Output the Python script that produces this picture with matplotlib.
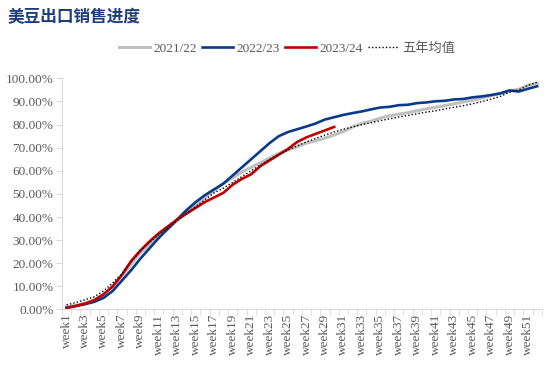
import matplotlib
matplotlib.use('Agg')
import matplotlib.pyplot as plt
from matplotlib.ticker import FixedLocator, PercentFormatter

plt.rcParams['font.family'] = ['Liberation Serif', 'Noto Sans CJK SC']

weeks = list(range(1, 53))
week_labels = [f'week{w}' for w in weeks]

# 2021/22
y2122 = [1.0, 1.8, 2.8, 4.2, 6.5, 10.0, 14.5, 19.5, 24.5, 28.0, 31.5, 35.0, 38.5,
         42.0, 45.5, 48.5, 51.5, 54.5, 57.0, 59.5, 61.5, 63.5, 65.5, 67.5, 69.0, 70.5,
         72.0, 73.0, 74.2, 75.5, 77.0, 79.0, 80.5, 81.5, 82.8, 83.8, 84.5, 85.2, 86.0,
         86.8, 87.5, 88.2, 89.0, 89.8, 90.5, 91.5, 92.5, 93.5, 94.5, 95.3, 97.0, 98.0]
# 2022/23
y2223 = [0.8, 1.5, 2.3, 3.3, 5.0, 8.0, 12.5, 17.0, 22.0, 26.5, 31.0, 35.0, 39.0,
         43.0, 46.5, 49.5, 52.0, 54.5, 58.0, 61.5, 65.0, 68.5, 72.0, 75.0, 76.8, 78.0,
         79.2, 80.5, 82.2, 83.2, 84.2, 85.0, 85.7, 86.6, 87.4, 87.7, 88.4, 88.6, 89.3,
         89.6, 90.1, 90.3, 90.9, 91.1, 91.8, 92.2, 92.8, 93.5, 94.8, 94.3, 95.5, 96.6]
# 2023/24
y2324 = [0.6, 1.5, 2.5, 4.0, 6.5, 10.0, 15.0, 21.0, 25.5, 29.5, 33.0, 36.0, 39.0,
         41.5, 44.0, 46.5, 48.5, 50.5, 54.0, 56.5, 58.5, 62.0, 64.5, 67.0, 69.5, 72.5,
         74.5, 76.0, 77.5, 79.0]
# 五年均值
avg5 = [2.0, 3.0, 4.2, 5.5, 8.0, 11.5, 15.5, 20.5, 25.5, 29.0, 32.5, 35.5, 38.5,
        41.5, 44.5, 47.5, 50.5, 52.5, 55.0, 57.5, 60.0, 62.5, 65.0, 67.0, 69.0, 70.8,
        72.5, 74.0, 75.5, 76.8, 78.0, 79.0, 80.0, 80.8, 81.7, 82.5, 83.3, 84.0, 84.7,
        85.4, 86.0, 86.8, 87.5, 88.2, 89.0, 90.0, 91.0, 92.2, 94.0, 95.0, 97.0, 98.3]

fig = plt.figure(figsize=(5.58, 3.68), dpi=100)
ax = fig.add_axes([0.111, 0.159, 0.86, 0.628])

ax.plot(weeks, y2122, color='#BFBFBF', lw=2.2, label='2021/22')
ax.plot(weeks, y2223, color='#0A3A8A', lw=1.9, label='2022/23')
ax.plot(weeks[:len(y2324)], y2324, color='#C00000', lw=1.9, label='2023/24')
ax.plot(weeks, avg5, color='black', lw=1.0, ls=(0, (1, 1.5)), label='五年均值')

ax.set_xlim(0.5, 52.5)
ax.set_ylim(0, 100)
ax.set_yticks(range(0, 101, 10))
ax.yaxis.set_major_formatter(PercentFormatter(decimals=2))
ax.set_xticks(weeks[::2])
ax.set_xticklabels(week_labels[::2], rotation=90)
ax.xaxis.set_minor_locator(FixedLocator([w + 0.5 for w in range(0, 53)]))
ax.tick_params(axis='x', which='major', length=0, pad=3, labelsize=9.5, colors='#595959')
ax.tick_params(axis='x', which='minor', length=4, color='#D9D9D9', direction='out')
ax.tick_params(axis='y', length=4, color='#D9D9D9', labelsize=9.5, colors='#595959', pad=2)

for s in ['top', 'right']:
    ax.spines[s].set_visible(False)
ax.spines['left'].set_color('#D9D9D9')
ax.spines['bottom'].set_color('#D9D9D9')

fig.text(0.014, 0.953, '美豆出口销售进度', fontsize=12, fontweight='bold',
         color='#1F3D7A', family='Noto Sans CJK SC', va='center')

fig.legend(loc='center', bbox_to_anchor=(0.515, 0.868), ncol=4, frameon=False,
           fontsize=9.5, handlelength=2.3, handletextpad=0.3, columnspacing=0.4,
           labelcolor='#595959')

fig.savefig('out.png', dpi=100, facecolor='white')
